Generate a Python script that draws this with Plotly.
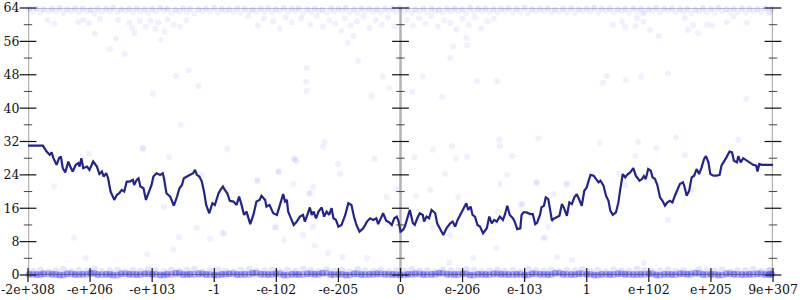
import plotly.graph_objects as go

# ---------------- data ----------------
x_tick_labels = ["-2e+308", "-e+206", "-e+103", "-1", "-e-102", "-e-205", "0",
                 "e-206", "e-103", "1", "e+102", "e+205", "9e+307"]
x_tick_pos = list(range(13))
y_ticks = [0, 8, 16, 24, 32, 40, 48, 56, 64]
y_minor = [4, 12, 20, 28, 36, 44, 52, 60]

line_x = [0, 0.24, 0.30, 0.35, 0.38, 0.41, 0.46, 0.50, 0.53, 0.56, 0.60, 0.65, 0.68, 0.72, 0.77, 0.81, 0.83, 0.86, 0.89, 0.95,
          0.99, 1.05, 1.11, 1.15, 1.19, 1.22, 1.26, 1.29, 1.33, 1.39, 1.43, 1.47, 1.51, 1.55, 1.59, 1.64, 1.69, 1.71, 1.75, 1.78,
          1.81, 1.86, 1.90, 1.94, 1.99, 2.02, 2.07, 2.13, 2.17, 2.19, 2.23, 2.29, 2.35, 2.40, 2.44, 2.48, 2.51, 2.56, 2.62, 2.66,
          2.69, 2.72, 2.76, 2.80, 2.84, 2.87, 2.92, 2.97, 3.01, 3.07, 3.10, 3.14, 3.17, 3.21, 3.25, 3.31, 3.36, 3.40, 3.44, 3.48,
          3.52, 3.58, 3.63, 3.68, 3.73, 3.76, 3.82, 3.84, 3.89,
          3.95, 4.01, 4.05, 4.09, 4.11, 4.14, 4.17, 4.19, 4.25, 4.28, 4.33, 4.38, 4.43, 4.46, 4.50, 4.54, 4.57, 4.60, 4.64, 4.68,
          4.73, 4.77, 4.81, 4.85, 4.89, 4.92, 4.96, 5.00, 5.05, 5.11, 5.16, 5.21, 5.25, 5.29, 5.34, 5.40, 5.46, 5.51, 5.56, 5.61,
          5.64, 5.70, 5.72, 5.77, 5.82, 5.86, 5.90, 5.94, 5.97, 6.00, 6.04, 6.07, 6.11, 6.15, 6.20, 6.23, 6.27, 6.31, 6.36, 6.38,
          6.42, 6.46, 6.50, 6.56, 6.59, 6.64, 6.69, 6.74, 6.80, 6.84, 6.88, 6.92, 6.96, 7.00, 7.06, 7.09, 7.13, 7.16, 7.20, 7.24,
          7.28, 7.33, 7.39, 7.43, 7.47, 7.51, 7.55, 7.60, 7.65, 7.68, 7.72, 7.76, 7.81, 7.84, 7.88, 7.93, 7.95, 7.98, 8.03,
          8.09, 8.13, 8.17, 8.20, 8.25, 8.27, 8.31, 8.34, 8.38, 8.41, 8.44, 8.46, 8.52, 8.56, 8.60, 8.63, 8.68, 8.72, 8.76, 8.80,
          8.84, 8.88, 8.92, 8.96, 9.00, 9.03, 9.06, 9.11, 9.15, 9.19, 9.22, 9.27, 9.31, 9.35, 9.38, 9.42, 9.47, 9.51, 9.54, 9.58,
          9.62, 9.65, 9.70, 9.75, 9.79, 9.85, 9.89, 9.92, 9.95, 9.99, 10.03, 10.06, 10.10, 10.14, 10.18, 10.22, 10.26, 10.30, 10.34, 10.38,
          10.42, 10.46, 10.50, 10.55, 10.57, 10.61, 10.65, 10.69, 10.73, 10.77, 10.81, 10.85, 10.89, 10.92, 10.96, 10.99, 11.04, 11.09, 11.14, 11.17,
          11.21, 11.25, 11.30, 11.34, 11.37, 11.42, 11.44, 11.48, 11.52, 11.58, 11.63, 11.68, 11.73, 11.75, 11.78, 11.82, 12.0]
line_y = [31.0, 31.0, 29.6, 28.8, 29.4, 28.0, 26.4, 28.0, 28.4, 25.6, 24.6, 27.2, 26.0, 24.8, 26.4, 26.8, 26.0, 28.0, 25.6, 26.0,
          25.2, 27.2, 26.0, 24.2, 24.8, 23.6, 24.4, 23.2, 20.0, 18.0, 19.2, 19.6, 20.4, 20.0, 22.4, 22.4, 22.8, 21.6, 22.8, 23.2,
          21.2, 20.8, 18.0, 19.6, 21.6, 23.6, 24.4, 24.0, 24.4, 23.2, 19.6, 18.8, 16.6, 18.8, 20.8, 21.6, 23.2, 23.6, 24.0, 24.4,
          25.2, 24.0, 23.6, 22.4, 19.6, 16.8, 14.8, 17.2, 16.8, 19.6, 20.4, 21.2, 20.4, 19.6, 17.8, 17.6, 16.8, 18.8, 16.8, 14.4,
          15.2, 12.2, 14.4, 17.6, 18.0, 19.0, 18.0, 16.4, 16.8,
          14.8, 14.4, 16.4, 18.8, 19.4, 17.6, 18.0, 15.2, 12.8, 12.0, 12.8, 14.0, 14.4, 12.8, 14.4, 16.2, 14.4, 15.2, 13.6, 15.2,
          16.2, 14.0, 15.2, 14.4, 16.0, 13.6, 13.2, 11.6, 12.0, 14.4, 17.2, 16.8, 14.0, 12.0, 10.4, 11.2, 12.8, 13.6, 13.2, 13.6,
          12.2, 14.0, 14.8, 13.0, 12.6, 12.0, 13.6, 14.0, 12.8, 10.4, 10.8, 11.6, 13.6, 15.6, 12.4, 12.0, 13.6, 14.8, 14.4, 12.8,
          14.0, 13.6, 15.6, 14.8, 12.4, 10.8, 9.6, 11.2, 12.4, 12.8, 11.6, 13.2, 14.4, 15.2, 17.2, 15.6, 16.4, 14.4, 14.0, 12.0,
          11.6, 10.0, 11.2, 14.0, 12.4, 13.2, 12.8, 14.0, 13.2, 14.4, 16.6, 14.4, 13.6, 12.8, 11.0, 11.2, 14.4, 15.0, 15.0,
          14.6, 14.6, 12.2, 12.5, 14.6, 16.2, 16.6, 18.6, 18.2, 15.4, 13.0, 13.4, 13.8, 14.2, 17.0, 16.2, 14.2, 17.4, 17.0, 18.6,
          19.4, 17.8, 16.6, 20.2, 21.0, 22.6, 24.0, 23.8, 23.0, 22.2, 22.6, 21.4, 19.0, 17.8, 15.4, 14.4, 15.0, 17.4, 20.6, 24.2,
          23.4, 24.0, 24.6, 25.6, 23.8, 22.6, 23.0, 23.7, 23.0, 25.4, 25.0, 23.4, 23.0, 21.4, 18.6, 17.8, 16.6, 17.4, 17.8, 17.4,
          19.0, 20.6, 21.8, 22.2, 21.4, 19.0, 20.2, 23.4, 23.8, 25.4, 24.2, 25.8, 27.8, 28.5, 27.0, 24.2, 23.8, 23.8, 24.0, 26.2,
          27.4, 28.2, 29.6, 29.4, 27.4, 27.0, 28.5, 27.0, 28.0, 27.4, 26.9, 26.4, 26.2, 24.8, 26.6, 26.4, 26.4]

# sparse samples
pts_x = [0.32, 0.43, 0.81, 0.89, 0.98, 1.08, 1.16, 1.32, 1.42, 1.45, 1.56, 1.63, 1.68, 1.72, 1.80, 1.90, 1.97, 2.05, 2.10, 2.20,
         2.25, 2.35, 2.45, 2.55, 2.01, 2.14, 2.38, 2.46, 2.59, 2.75, 1.85,
         5.32, 4.49, 4.48, 4.49, 5.72, 5.82, 6.19, 6.36, 6.80, 7.55, 7.23, 6.67, 5.53, 5.15, 5.24, 6.85, 7.07, 7.06,
         4.40, 4.55, 4.65, 4.75, 4.85, 4.95, 5.05, 5.10, 5.20, 5.30, 5.40, 5.50, 5.60, 5.70, 5.80, 5.90, 6.10, 6.20, 6.30, 6.40,
         6.50, 6.60, 6.70, 6.80, 6.90, 7.00, 7.10, 7.20, 7.30, 7.40, 7.50, 4.25, 4.15, 4.05, 3.95, 3.80, 3.70, 3.55,
         9.42, 9.57, 9.62, 9.78, 9.81, 9.91, 9.90, 10.02, 10.16, 10.58, 10.63, 10.71, 10.79, 10.94, 11.02, 11.26, 11.36, 11.58,
         10.31, 9.87, 9.63, 9.33, 9.26, 11.57,
         0.42, 0.98, 0.74, 0.93, 1.92, 2.34, 2.43, 2.19, 2.72, 2.27,
         2.80, 4.04, 3.70, 4.30, 4.54, 3.98, 4.12, 4.62, 5.07, 5.46, 5.03, 5.59, 2.93, 3.16, 4.83,
         6.52, 6.72, 7.07, 7.80, 6.48, 7.72, 8.18, 8.68, 7.60, 7.57, 8.33, 7.17, 7.55, 8.52, 8.76, 6.80, 6.23, 6.52, 6.78,
         9.78, 10.58, 9.62, 10.71, 10.31, 9.92,
         4.75, 4.78, 4.28, 4.32, 4.99, 4.28, 4.59, 4.53, 5.78, 5.94, 6.25, 6.83, 6.89, 7.59, 7.60, 7.94, 6.93, 3.99, 4.43, 4.59,
         8.22, 9.21, 9.83, 10.12, 10.44, 11.44, 9.52, 8.67, 8.46, 8.20, 7.96, 8.38, 8.30,
         1.85, 3.21, 4.03, 3.69, 3.13]
pts_y = [61.1, 60.2, 60.6, 61.1, 60.4, 57.8, 61.4, 54.2, 56.6, 61.1, 53.0, 60.4, 59.2, 58.0, 60.8, 59.5, 61.0, 59.0, 60.5, 58.3,
         61.2, 60.0, 59.5, 61.0, 43.4, 56.3, 47.7, 36.0, 49.1, 45.3, 30.4,
         51.3, 49.6, 46.3, 44.1, 47.5, 44.8, 43.9, 47.5, 52.0, 46.5, 46.5, 42.7, 42.9, 55.6, 57.3, 54.7, 55.1, 56.8,
         61.5, 60.0, 62.0, 59.5, 61.0, 60.3, 58.5, 61.6, 59.8, 60.8, 62.0, 59.2, 61.0, 60.0, 61.8, 59.6, 61.2, 59.8, 61.5, 60.2,
         62.1, 59.5, 61.0, 60.4, 58.8, 61.4, 60.0, 61.8, 59.0, 60.8, 61.5, 60.5, 61.8, 59.0, 60.8, 61.5, 59.8, 62.0,
         60.0, 60.7, 59.5, 59.6, 61.6, 60.7, 62.6, 58.7, 57.3, 61.6, 58.7, 59.9, 58.0, 60.0, 59.8, 60.6, 62.0, 60.4,
         48.4, 47.5, 46.7, 47.7, 46.0, 42.2,
         21.3, 29.2, 8.9, 4.1, 5.0, 6.2, 9.1, 16.3, 11.3, 28.3,
         24.0, 24.7, 22.5, 27.6, 19.7, 11.5, 8.4, 7.0, 4.3, 4.1, 24.2, 27.8, 8.6, 10.0, 5.3,
         30.0, 24.2, 28.3, 28.5, 20.4, 24.0, 22.0, 22.0, 21.8, 15.1, 8.9, 4.1, 6.5, 4.3, 3.6, 9.6, 28.3, 11.5, 2.9,
         28.5, 28.8, 21.6, 20.4, 13.2, 2.9,
         30.7, 31.9, 28.0, 27.3, 26.6, 21.8, 21.1, 19.4, 18.7, 20.6, 18.9, 30.9, 27.8, 32.4, 30.9, 16.8, 18.7, 11.3, 9.6, 11.5,
         32.8, 31.6, 31.9, 30.4, 33.1, 32.4, 24.2, 21.6, 19.4, 22.3, 17.0, 11.5, 8.9,
         30.2, 30.2, 24.9, 22.8, 10.0]

# dense bands at the bottom (near 0) and top (near 64)
band_x = [0.02, 0.14, 0.25, 0.39, 0.51, 0.63, 0.76, 0.88, 1.01, 1.12, 1.26, 1.37, 1.50, 1.63, 1.75, 1.88, 2.00, 2.13, 2.24, 2.38,
          2.50, 2.61, 2.75, 2.87, 3.00, 3.12, 3.24, 3.37, 3.49, 3.62, 3.75, 3.87, 3.99, 4.12, 4.25, 4.36, 4.50, 4.62, 4.74, 4.88,
          5.00, 5.12, 5.25, 5.37, 5.50, 5.62, 5.75, 5.87, 5.99, 6.12, 6.24, 6.37, 6.50, 6.62, 6.75, 6.87, 7.00, 7.12, 7.25, 7.37,
          7.50, 7.62, 7.74, 7.87, 8.00, 8.12, 8.25, 8.37, 8.49, 8.62, 8.75, 8.87, 9.00, 9.12, 9.24, 9.37, 9.50, 9.62, 9.75, 9.87,
          10.00, 10.12, 10.25, 10.37, 10.50, 10.62, 10.75, 10.87, 11.00, 11.12, 11.25, 11.37, 11.50, 11.62, 11.75, 11.87, 11.98]
band_x2 = [0.08, 0.20, 0.33, 0.45, 0.57, 0.70, 0.82, 0.95, 1.07, 1.19, 1.32, 1.44, 1.57, 1.69, 1.81, 1.94, 2.06, 2.19, 2.31, 2.44,
           2.56, 2.68, 2.81, 2.93, 3.06, 3.18, 3.31, 3.43, 3.56, 3.68, 3.81, 3.93, 4.06, 4.18, 4.31, 4.43, 4.56, 4.68, 4.81, 4.93,
           5.06, 5.18, 5.31, 5.43, 5.56, 5.68, 5.81, 5.93, 6.06, 6.18, 6.31, 6.43, 6.56, 6.68, 6.81, 6.93, 7.06, 7.18, 7.31, 7.43,
           7.56, 7.68, 7.81, 7.93, 8.06, 8.18, 8.31, 8.43, 8.56, 8.68, 8.81, 8.93, 9.06, 9.18, 9.31, 9.43, 9.56, 9.68, 9.81, 9.93,
           10.06, 10.18, 10.31, 10.43, 10.56, 10.68, 10.81, 10.93, 11.06, 11.18, 11.31, 11.43, 11.56, 11.68, 11.81, 11.93, 11.95]
band_low_y = [0.2, 0.1, 0.3, 0.2, 0.0, 0.3, 0.1, 0.2, 0.4, 0.1, 0.2, 0.0, 0.3, 0.2, 0.1, 0.3, 0.2, 0.0, 0.2, 0.4,
              0.1, 0.2, 0.3, 0.1, 0.0, 0.2, 0.3, 0.1, 0.2, 0.4, 0.2, 0.1, 0.3, 0.0, 0.2, 0.1, 0.3, 0.2, 0.4, 0.1,
              0.2, 0.0, 0.3, 0.1, 0.2, 0.3, 0.2, 0.1, 0.0, 0.2, 0.3, 0.1, 0.2, 0.4, 0.2, 0.1, 0.3, 0.0, 0.2, 0.1,
              0.3, 0.2, 0.1, 0.2, 0.0, 0.3, 0.2, 0.1, 0.4, 0.2, 0.1, 0.3, 0.2, 0.0, 0.2, 0.1, 0.3, 0.2, 0.1, 0.2,
              0.3, 0.0, 0.2, 0.1, 0.3, 0.2, 0.4, 0.1, 0.2, 0.0, 0.3, 0.2, 0.1, 0.2, 0.3, 0.1, 0.2]
band_mid_y = [0.9, 1.2, 0.7, 1.0, 1.3, 0.8, 1.1, 0.9, 1.4, 0.8, 1.0, 1.2, 0.7, 1.1, 0.9, 1.3, 1.0, 0.8, 1.2, 0.9,
              1.1, 1.4, 0.8, 1.0, 1.2, 0.9, 0.7, 1.1, 1.3, 0.9, 1.0, 1.2, 0.8, 1.1, 0.9, 1.4, 1.0, 0.8, 1.2, 0.9,
              1.1, 0.7, 1.3, 1.0, 0.9, 1.2, 0.8, 1.1, 1.0, 1.3, 0.9, 1.1, 0.8, 1.2, 1.0, 0.9, 1.4, 1.1, 0.8, 1.0,
              1.2, 0.9, 1.1, 0.7, 1.3, 1.0, 0.9, 1.2, 0.8, 1.1, 1.0, 1.3, 0.9, 1.1, 0.8, 1.2, 1.0, 0.9, 1.4, 1.1,
              0.8, 1.0, 1.2, 0.9, 1.1, 0.7, 1.3, 1.0, 0.9, 1.2, 0.8, 1.1, 1.0, 1.3, 0.9, 1.1, 1.0]
band_top_y = [63.8, 63.9, 63.7, 63.8, 64.0, 63.7, 63.9, 63.8, 63.6, 63.9, 63.8, 64.0, 63.7, 63.8, 63.9, 63.7, 63.8, 64.0, 63.8, 63.6,
              63.9, 63.8, 63.7, 63.9, 64.0, 63.8, 63.7, 63.9, 63.8, 63.6, 63.8, 63.9, 63.7, 64.0, 63.8, 63.9, 63.7, 63.8, 63.6, 63.9,
              63.8, 64.0, 63.7, 63.9, 63.8, 63.7, 63.8, 63.9, 64.0, 63.8, 63.7, 63.9, 63.8, 63.6, 63.8, 63.9, 63.7, 64.0, 63.8, 63.9,
              63.7, 63.8, 63.9, 63.8, 64.0, 63.7, 63.8, 63.9, 63.6, 63.8, 63.9, 63.7, 63.8, 64.0, 63.8, 63.9, 63.7, 63.8, 63.9, 63.8,
              63.7, 64.0, 63.8, 63.9, 63.7, 63.8, 63.6, 63.9, 63.8, 64.0, 63.7, 63.8, 63.9, 63.8, 63.7, 63.9, 63.8]
band_top2_y = [63.2, 62.9, 63.3, 63.1, 62.8, 63.2, 63.0, 63.3, 62.7, 63.1, 63.2, 62.9, 63.3, 63.0, 63.1, 62.8, 63.2, 63.3, 62.9, 63.1,
               63.0, 62.7, 63.2, 63.1, 62.9, 63.3, 63.0, 62.8, 63.2, 63.1, 63.0, 62.9, 63.3, 63.1, 63.2, 62.7, 63.0, 63.2, 62.9, 63.1,
               63.3, 63.0, 62.8, 63.2, 63.1, 62.9, 63.3, 63.0, 63.1, 62.8, 63.2, 63.0, 63.3, 62.9, 63.1, 63.2, 62.7, 63.0, 63.2, 63.1,
               62.9, 63.3, 63.0, 63.1, 62.8, 63.2, 63.3, 62.9, 63.1, 63.0, 62.8, 63.2, 63.1, 62.9, 63.3, 63.0, 63.2, 62.8, 63.1, 63.0,
               63.2, 62.9, 63.3, 63.0, 63.1, 62.7, 63.2, 63.0, 62.9, 63.3, 63.1, 63.0, 62.8, 63.2, 63.1, 62.9, 63.0]

assert len(line_x) == len(line_y)
assert len(pts_x) == len(pts_y)
assert len(band_x) == len(band_low_y) == len(band_top_y)
assert len(band_x2) == len(band_mid_y) == len(band_top2_y)

# ---------------- figure ----------------
FONT = "DejaVu Serif, serif"
fig = go.Figure()

def dots(xs, ys, size, alpha):
    fig.add_trace(go.Scatter(x=xs, y=ys, mode="markers", cliponaxis=False,
                             marker=dict(size=size, color=f"rgba(40,40,255,{alpha})", line=dict(width=0)),
                             hoverinfo="skip"))

dots(pts_x, pts_y, 6, 0.07)
dots(band_x2, band_mid_y, 7, 0.12)
dots(band_x, band_low_y, 7, 0.42)
dots(band_x2, band_low_y, 7, 0.32)
dots(band_x, band_top_y, 6, 0.12)
dots(band_x2, band_top2_y, 6, 0.06)

fig.add_trace(go.Scatter(x=line_x, y=line_y, mode="lines", cliponaxis=False,
                         line=dict(color="#23238e", width=2.2), hoverinfo="skip"))

# axis decorations: vertical axes at both ends and in the middle
axis_shapes = []
for xv in (0, 6, 12):
    axis_shapes.append(dict(type="line", xref="x", yref="y", x0=xv, x1=xv, y0=0, y1=64,
                            line=dict(color="#b4b4b4", width=2.5), layer="below"))
axis_shapes.append(dict(type="line", xref="x", yref="y", x0=0, x1=12, y0=64, y1=64,
                        line=dict(color="rgba(70,70,140,0.65)", width=1.2), layer="above"))
axis_shapes.append(dict(type="line", xref="x", yref="y", x0=0, x1=12, y0=0, y1=0,
                        line=dict(color="#333366", width=1.2), layer="above"))
fig.update_layout(shapes=axis_shapes)

# tick marks crossing the axes
for xv in (0, 6, 12):
    fig.add_trace(go.Scatter(x=[xv] * len(y_ticks), y=y_ticks, mode="markers", cliponaxis=False,
                             marker=dict(symbol="line-ew", size=12, line=dict(color="#111111", width=1.2)),
                             hoverinfo="skip"))
    fig.add_trace(go.Scatter(x=[xv] * len(y_minor), y=y_minor, mode="markers", cliponaxis=False,
                             marker=dict(symbol="line-ew", size=6, line=dict(color="#444444", width=1)),
                             hoverinfo="skip"))
fig.add_trace(go.Scatter(x=x_tick_pos, y=[0] * len(x_tick_pos), mode="markers", cliponaxis=False,
                         marker=dict(symbol="line-ns", size=10, line=dict(color="#111111", width=1.2)),
                         hoverinfo="skip"))

fig.update_layout(
    width=800, height=300,
    margin=dict(l=28, r=27, t=8, b=25, autoexpand=False),
    paper_bgcolor="white", plot_bgcolor="white",
    showlegend=False,
    font=dict(family=FONT, size=12.5, color="#111111"),
    xaxis=dict(range=[0, 12], tickmode="array", tickvals=x_tick_pos, ticktext=x_tick_labels,
               showgrid=False, zeroline=False, showline=False, automargin=False,
               ticks="outside", ticklen=3, tickcolor="rgba(0,0,0,0)",
               tickfont=dict(family=FONT, size=12.5, color="#111111")),
    yaxis=dict(range=[0, 64], tickmode="array", tickvals=y_ticks,
               showgrid=False, zeroline=False, showline=False, automargin=False,
               ticks="outside", ticklen=5, tickcolor="rgba(0,0,0,0)",
               tickfont=dict(family=FONT, size=12.5, color="#111111")),
)

fig.write_html("out.html")
